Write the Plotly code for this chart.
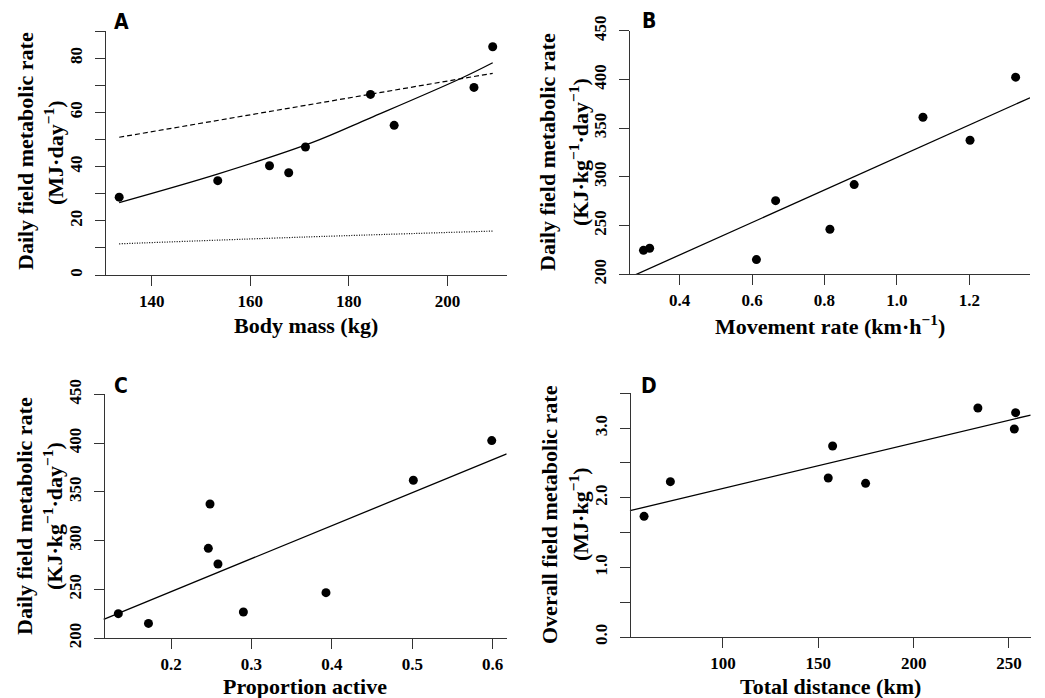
import plotly.graph_objects as go

W, H = 1045, 698

# ---------------- data ----------------
# Panel A
body_mass_kg = [133.4, 153.4, 163.9, 167.8, 171.2, 184.4, 189.2, 205.4, 209.2]
dfmr_mj_day = [28.7, 34.8, 40.3, 37.7, 47.2, 66.6, 55.2, 69.2, 84.2]
fitA_x = [133.4, 153.5, 172.5, 184.3, 202.6, 209.2]
fitA_y = [26.7, 37.3, 48.8, 57.9, 72.4, 78.3]
dashA_x = [133.4, 171.0, 209.2]
dashA_y = [50.8, 62.6, 74.4]
dotA_x = [133.4, 171.0, 209.2]
dotA_y = [11.5, 14.0, 16.2]

# Panel B
movement_rate = [0.300, 0.317, 0.612, 0.665, 0.815, 0.882, 1.072, 1.202, 1.328]
dfmr_kj_B = [224.6, 226.7, 215.1, 275.6, 246.2, 292.1, 361.2, 337.6, 402.3]
fitB_x = [0.2351, 1.3677]
fitB_y = [192.4, 381.2]

# Panel C
prop_active = [0.1345, 0.172, 0.2485, 0.2464, 0.2584, 0.290, 0.3927, 0.5013, 0.5988]
dfmr_kj_C = [225.0, 215.0, 337.5, 292.0, 275.9, 226.7, 246.5, 361.8, 402.5]
fitC_x = [0.1163, 0.6174]
fitC_y = [219.2, 388.8]

# Panel D
total_km = [58.6, 72.4, 155.2, 157.5, 174.8, 233.7, 253.5, 252.8]
ofmr_mj_kg = [1.733, 2.231, 2.283, 2.743, 2.207, 3.289, 3.222, 2.987]
fitD_x = [51.2, 261.4]
fitD_y = [1.814, 3.188]

# ticks
ticksA_x = [140, 160, 180, 200]
ticksA_y = [0, 20, 40, 60, 80]
minorA_y = [10, 30, 50, 70, 90]
ticksB_x = [0.4, 0.6, 0.8, 1.0, 1.2]
ticksBC_y = [200, 250, 300, 350, 400, 450]
ticksC_x = [0.2, 0.3, 0.4, 0.5, 0.6]
ticksD_x = [100, 150, 200, 250]
ticksD_y = [0.0, 1.0, 2.0, 3.0]
minorD_y = [0.5, 1.5, 2.5, 3.5]

# ---------------- layout helpers ----------------
SERIF = "Liberation Serif"
AXC = "#333333"

def px_x(p):
    return p / W

def px_y(p):
    return 1 - p / H

fig = go.Figure()

panels = [
    dict(k="", xd=(95, 507), yd=(31, 275), ypos=105, xr=[128.49, 212.1], yr=[0, 90],
         xt=ticksA_x, yt=ticksA_y, ym=minorA_y, xf="", yf=""),
    dict(k="2", xd=(620, 1030), yd=(30.7, 274.3), ypos=629.3, xr=[0.2351, 1.3677], yr=[200, 450],
         xt=ticksB_x, yt=ticksBC_y, ym=None, xf=".1f", yf=""),
    dict(k="3", xd=(95, 506.7), yd=(394.3, 638), ypos=103.7, xr=[0.1055, 0.6174], yr=[200, 450],
         xt=ticksC_x, yt=ticksBC_y, ym=None, xf=".1f", yf=""),
    dict(k="4", xd=(620, 1030.7), yd=(393.3, 637), ypos=630, xr=[45.98, 261.4], yr=[0, 3.5],
         xt=ticksD_x, yt=ticksD_y, ym=minorD_y, xf="", yf=".1f"),
]

layout_axes = {}
for p in panels:
    k = p["k"]
    xa = dict(
        domain=[px_x(p["xd"][0]), px_x(p["xd"][1])],
        range=p["xr"], anchor="y" + k, showgrid=False, zeroline=False, automargin=False,
        showline=True, linecolor=AXC, linewidth=1.2,
        ticks="outside", ticklen=10, tickwidth=1.2, tickcolor=AXC,
        tickmode="array", tickvals=p["xt"], tickformat=p["xf"],
        tickfont=dict(family=SERIF, size=17, color="black", weight="bold"),
    )
    ya = dict(
        domain=[px_y(p["yd"][1]), px_y(p["yd"][0])],
        range=p["yr"], anchor="free", position=px_x(p["ypos"]), automargin=False,
        showgrid=False, zeroline=False,
        showline=True, linecolor=AXC, linewidth=1.2,
        ticks="outside", ticklen=10, tickwidth=1.2, tickcolor=AXC,
        tickmode="array", tickvals=p["yt"], tickformat=p["yf"], tickangle=-90,
        ticklabelstandoff=6,
        tickfont=dict(family=SERIF, size=17, color="black", weight="bold"),
    )
    if p["ym"] is not None:
        ya["minor"] = dict(tickmode="array", tickvals=p["ym"], ticks="outside",
                           ticklen=10, tickwidth=1.2, tickcolor=AXC, showgrid=False)
    layout_axes["xaxis" + k] = xa
    layout_axes["yaxis" + k] = ya

def pts(x, y, k):
    return go.Scatter(x=x, y=y, mode="markers", xaxis="x" + k, yaxis="y" + k,
                      marker=dict(color="black", size=9), showlegend=False, hoverinfo="skip")

def line(x, y, k, dash="solid", width=1.3, shape="linear"):
    return go.Scatter(x=x, y=y, mode="lines", xaxis="x" + k, yaxis="y" + k,
                      line=dict(color="black", width=width, dash=dash, shape=shape),
                      showlegend=False, hoverinfo="skip")

# Panel A
fig.add_trace(line(dashA_x, dashA_y, "", dash="5px,3px", width=1.2))
fig.add_trace(line(dotA_x, dotA_y, "", dash="1px,1.5px", width=1.2, shape="spline"))
fig.add_trace(line(fitA_x, fitA_y, "", shape="spline"))
fig.add_trace(pts(body_mass_kg, dfmr_mj_day, ""))
# Panel B
fig.add_trace(line(fitB_x, fitB_y, "2"))
fig.add_trace(pts(movement_rate, dfmr_kj_B, "2"))
# Panel C
fig.add_trace(line(fitC_x, fitC_y, "3"))
fig.add_trace(pts(prop_active, dfmr_kj_C, "3"))
# Panel D
fig.add_trace(line(fitD_x, fitD_y, "4"))
fig.add_trace(pts(total_km, ofmr_mj_kg, "4"))

ann = []
def text(x, y, s, size=22, angle=0, family=SERIF):
    ann.append(dict(x=px_x(x), y=px_y(y), xref="paper", yref="paper", text=s,
                    showarrow=False, xanchor="center", yanchor="middle", textangle=angle,
                    font=dict(family=family, size=size, color="black", weight="bold")))

# x titles
text(306, 326, "Body mass (kg)")
text(830, 325, "Movement rate (km·h<sup>−1</sup>)")
text(305, 686, "Proportion active")
text(830, 686, "Total distance (km)")
# y titles
text(25, 151, "Daily field metabolic rate", angle=-90)
text(54, 153, "(MJ·day<sup>−1</sup>)", angle=-90)
text(547, 152, "Daily field metabolic rate", angle=-90)
text(579, 152, "(KJ·kg<sup>−1</sup>·day<sup>−1</sup>)", angle=-90)
text(24, 516, "Daily field metabolic rate", angle=-90)
text(53, 516, "(KJ·kg<sup>−1</sup>·day<sup>−1</sup>)", angle=-90)
text(549, 515, "Overall field metabolic rate", angle=-90)
text(579, 515, "(MJ·kg<sup>−1</sup>)", angle=-90)
# panel letters
LET = "'DejaVu Sans Condensed', Roboto, sans-serif"
text(121, 22, "A", size=21, family=LET)
text(649, 21, "B", size=21, family=LET)
text(121, 386, "C", size=21, family=LET)
text(649, 386, "D", size=21, family=LET)

fig.update_layout(
    width=W, height=H, margin=dict(l=0, r=0, t=0, b=0, autoexpand=False),
    paper_bgcolor="white", plot_bgcolor="white",
    annotations=ann, showlegend=False,
    **layout_axes,
)

fig.write_html(
    "out.html",
    config={"displayModeBar": False},
    post_script="document.body.style.margin='0';document.body.style.overflow='hidden';",
)
